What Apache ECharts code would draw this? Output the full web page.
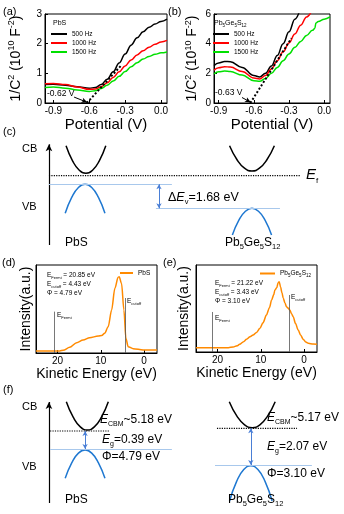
<!DOCTYPE html>
<html>
<head>
<meta charset="utf-8">
<script src="https://cdn.jsdelivr.net/npm/echarts@6/dist/echarts.min.js"></script>
<style>
  html, body { margin: 0; padding: 0; background: #fff; }
  #chart { width: 344px; height: 514px; }
</style>
</head>
<body>
<div id="chart"></div>
<script>
const FONT = 'Liberation Sans, Arial, sans-serif';

// (a) Mott–Schottky curves of PbS, 1/C^2 in 10^10 F^-2
const potentialA = [-0.97, -0.9, -0.8, -0.7, -0.6, -0.55, -0.5, -0.45, -0.4, -0.35, -0.3, -0.25, -0.2, -0.15, -0.1, -0.05, 0, 0.05];
const pbs500  = [0.62, 0.63, 0.60, 0.55, 0.50, 0.52, 0.62, 0.80, 1.05, 1.35, 1.65, 1.95, 2.20, 2.40, 2.55, 2.66, 2.75, 2.83];
const pbs1000 = [0.65, 0.66, 0.62, 0.54, 0.46, 0.47, 0.55, 0.68, 0.86, 1.05, 1.25, 1.45, 1.62, 1.76, 1.88, 1.98, 2.06, 2.11];
const pbs1500 = [0.52, 0.54, 0.50, 0.44, 0.39, 0.41, 0.49, 0.60, 0.74, 0.90, 1.06, 1.22, 1.36, 1.48, 1.57, 1.64, 1.69, 1.72];
const flatBandA = -0.62;
const fitEndA = [-0.33, 1.28];

// (b) Mott–Schottky curves of Pb5Ge5S12
const potentialB = [-0.94, -0.9, -0.85, -0.8, -0.7, -0.6, -0.55, -0.5, -0.45, -0.4, -0.35, -0.3, -0.25, -0.2, -0.15, -0.1, -0.08, -0.07, -0.05, 0, 0.05];
const pgs500  = [2.52, 2.70, 2.80, 2.78, 2.40, 1.85, 1.76, 2.00, 2.50, 3.20, 4.00, 4.80, 5.65, 6.45, null, null, null, null, null, null, null];
const pgs1000 = [2.22, 2.38, 2.45, 2.42, 2.12, 1.68, 1.62, 1.85, 2.30, 2.85, 3.45, 4.05, 4.65, 5.25, 5.80, 6.30, null, null, null, null, null];
const pgs1500 = [1.96, 2.10, 2.15, 2.12, 1.88, 1.50, 1.46, 1.65, 2.00, 2.40, 2.85, 3.30, 3.75, 4.15, 4.55, 4.90, 5.02, 5.40, 5.50, 5.65, 5.80];
const flatBandB = -0.63;
const fitEndB = [-0.28, 4.36];

const freqNames = ['500 Hz', '1000 Hz', '1500 Hz'];
const freqColors = ['#000000', '#ff0000', '#00e000'];
const potentialTicks = [-0.9, -0.6, -0.3, 0];

// (d) UPS spectrum of PbS
const energyD = [25, 22, 19.5, 18.7, 17.2, 15.6, 14.1, 12.6, 10.6, 9.8, 9.1, 8.3, 7.5, 6.75, 6.0, 5.75, 5.2, 4.66, 4.2, 3.67, 2.5, 0.2, -3];
const intensityD = [2.3, 2.3, 2.4, 3.2, 6.4, 11.7, 14.8, 17.4, 19.3, 20, 22.4, 29.9, 48.9, 73.5, 86, 86.7, 79, 48.9, 16.7, 7.2, 4.9, 3.4, 3.4];
const upsD = { fermi: 20.85, cutoff: 4.43, phi: 4.79 };

// (e) UPS spectrum of Pb5Ge5S12
const energyE = [25, 20, 17.5, 16.4, 15.5, 14.9, 14.0, 13.3, 12.5, 11.8, 11.0, 10.2, 9.5, 8.7, 8.0, 7.5, 7.0, 6.75, 6.3, 6.0, 5.75, 5.45, 5.1, 4.8, 4.4, 4.05, 3.7, 3.3, 2.9, 2.5, 2.0, 1.35, 0.8, 0.2, -0.4, -1, -2.1, -3];
const intensityE = [4.9, 4.9, 5.0, 5.7, 7.2, 8.8, 11.8, 14.6, 17.5, 19.5, 22.5, 27.2, 33.5, 42.5, 51, 59.8, 66, 71.3, 74, 79.7, 80.8, 75, 68, 61.7, 56, 52, 50.5, 48.3, 44, 40.6, 33, 25.3, 19.5, 14.6, 11.5, 10, 9.2, 9];
const upsE = { fermi: 21.22, cutoff: 3.43, phi: 3.10 };
const energyTicks = [20, 10, 0];

// (c) band alignment sketch (diagram units, Fermi level at 0)
const deltaEv = 1.68;
const pbsVbTopC = -0.6;
const pgsVbTopC = pbsVbTopC - deltaEv;
const pbsCbC = [[0.93, 2.1], [1.167, 1.028], [1.403, 0.384], [1.64, 0.17], [1.877, 0.384], [2.113, 1.028], [2.35, 2.1]];
const pbsVbC = [[0.9, -2.63], [1.137, -1.502], [1.373, -0.826], [1.61, -0.6], [1.847, -0.826], [2.083, -1.502], [2.32, -2.63]];
const pgsCbC = [[6.77, 2.1], [7.037, 1.117], [7.303, 0.527], [7.57, 0.33], [7.837, 0.527], [8.103, 1.117], [8.37, 2.1]];
const pgsVbC = [[6.87, -4.15], [7.103, -3.111], [7.337, -2.488], [7.57, -2.28], [7.803, -2.488], [8.037, -3.111], [8.27, -4.15]];

// (f) band edges with measured energies (diagram units)
const bandF = {
  pbs: { cbm: 5.18, eg: 0.39, phi: 4.79 },
  pgs: { cbm: 5.17, eg: 2.07, phi: 3.10 }
};
const pbsCbF = [[0.94, 10.33], [1.19, 8.758], [1.44, 7.814], [1.69, 7.5], [1.94, 7.814], [2.19, 8.758], [2.44, 10.33]];
const pbsVbF = [[0.9, 2.67], [1.137, 4.242], [1.373, 5.186], [1.61, 5.5], [1.847, 5.186], [2.083, 4.242], [2.32, 2.67]];
const pgsCbF = [[6.76, 10.33], [7.033, 8.886], [7.307, 8.019], [7.58, 7.73], [7.853, 8.019], [8.127, 8.886], [8.4, 10.33]];
const pgsVbF = [[6.77, 0.4], [7.023, 2.361], [7.277, 3.538], [7.53, 3.93], [7.783, 3.538], [8.037, 2.361], [8.29, 0.4]];

const zip = (xs, ys) => xs.map((x, i) => [x, ys[i]]);

const BLUE = '#1f78d1';
const LIGHT_BLUE = '#a8c8ec';
const ARROW_BLUE = '#4a7fd6';

function frameGrid(left, top, width, height) {
  return { left, top, width, height, show: true, borderColor: '#000', borderWidth: 1,
           backgroundColor: 'transparent', containLabel: false, outerBoundsMode: 'none' };
}
function hiddenGrid(left, top, width, height) {
  return { left, top, width, height, show: false, containLabel: false, outerBoundsMode: 'none' };
}
function hiddenAxis(gridIndex, min, max) {
  return { gridIndex, type: 'value', min, max, show: false, splitLine: { show: false } };
}

const tickLabel = { color: '#000', fontSize: 10, fontFamily: FONT, margin: 3 };
const bigName = { color: '#000', fontFamily: FONT };
const supRich = { sup: { fontSize: 9, fontFamily: FONT, verticalAlign: 'top', lineHeight: 10, color: '#000' } };
const frameLine = { onZero: false, lineStyle: { color: '#000', width: 1 } };

function potentialAxis(gridIndex, min, max) {
  return {
    gridIndex, type: 'value', min, max,
    axisLine: frameLine,
    axisTick: { inside: true, length: 3, customValues: potentialTicks, lineStyle: { color: '#000' } },
    axisLabel: Object.assign({ customValues: potentialTicks, formatter: v => v.toFixed(1) }, tickLabel),
    splitLine: { show: false },
    name: 'Potential (V)', nameLocation: 'middle', nameGap: 6,
    nameTextStyle: Object.assign({ fontSize: 15 }, bigName)
  };
}
function capAxis(gridIndex, max, interval, gap) {
  return {
    gridIndex, type: 'value', min: 0, max, interval,
    axisLine: frameLine,
    axisTick: { inside: true, length: 3, lineStyle: { color: '#000' } },
    axisLabel: tickLabel,
    splitLine: { show: false },
    name: '1/C{sup|2} (10{sup|10} F{sup|-2})', nameLocation: 'middle', nameGap: gap, nameRotate: 90,
    nameTextStyle: Object.assign({ fontSize: 14, lineHeight: 18, rich: supRich }, bigName)
  };
}
function energyAxis(gridIndex) {
  return {
    gridIndex, type: 'value', min: -3, max: 25, inverse: true,
    axisLine: frameLine,
    axisTick: { inside: true, length: 3, customValues: energyTicks, lineStyle: { color: '#000' } },
    axisLabel: Object.assign({ customValues: energyTicks }, tickLabel),
    splitLine: { show: false },
    name: 'Kinetic Energy (eV)', nameLocation: 'middle', nameGap: 10,
    nameTextStyle: Object.assign({ fontSize: 14 }, bigName)
  };
}
function intensityAxis(gridIndex, gap) {
  return {
    gridIndex, type: 'value', min: 0, max: 100,
    axisLine: frameLine,
    axisTick: { show: false }, axisLabel: { show: false }, splitLine: { show: false },
    name: 'Intensity(a.u.)', nameLocation: 'middle', nameGap: gap, nameRotate: 90,
    nameTextStyle: Object.assign({ fontSize: 14 }, bigName)
  };
}

function curve(name, xi, data, color, width, extra) {
  return Object.assign({
    name, type: 'line', xAxisIndex: xi, yAxisIndex: xi, data,
    symbol: 'none', showSymbol: false, smooth: 0.4, smoothMonotone: 'x',
    color, lineStyle: { color, width }, silent: true, clip: true
  }, extra || {});
}
function segment(name, xi, data, color, width, type, extra) {
  return Object.assign({
    name, type: 'line', xAxisIndex: xi, yAxisIndex: xi, data,
    symbol: 'none', showSymbol: false, color, lineStyle: { color, width, type }, silent: true
  }, extra || {});
}
function arrowMark(from, to, color, width, symbols, size) {
  return {
    silent: true, symbol: symbols, symbolSize: size, label: { show: false },
    lineStyle: { color, width, type: 'solid' }, emphasis: { disabled: true },
    data: [[{ coord: from }, { coord: to }]]
  };
}
function plainMark(lines, color, width) {
  return {
    silent: true, symbol: ['none', 'none'], label: { show: false },
    lineStyle: { color, width, type: 'solid' }, emphasis: { disabled: true },
    data: lines.map(l => [{ coord: l[0] }, { coord: l[1] }])
  };
}

const series = [];
// (a)
[pbs500, pbs1000, pbs1500].forEach((ys, i) => series.push(curve(freqNames[i], 0, zip(potentialA, ys), freqColors[i], 1.5)));
series.push(segment('fitA', 0, [[flatBandA, 0], fitEndA], '#000', 2, 'dotted', {
  z: 4, markLine: arrowMark([-0.727, 0.2], [flatBandA + 0.005, 0.02], '#000', 1, ['none', 'arrow'], [4, 6])
}));
// (b)
[pgs500, pgs1000, pgs1500].forEach((ys, i) => series.push(curve(freqNames[i], 1, zip(potentialB, ys), freqColors[i], 1.5, { connectNulls: false })));
series.push(segment('fitB', 1, [[flatBandB, 0], fitEndB], '#000', 2, 'dotted', {
  z: 4, markLine: arrowMark([-0.701, 0.37], [flatBandB + 0.005, 0.04], '#000', 1, ['none', 'arrow'], [4, 6])
}));
// (c)
series.push(curve('cbPbsC', 2, pbsCbC, '#000', 1.5, { smooth: 0.5, smoothMonotone: null }));
series.push(curve('vbPbsC', 2, pbsVbC, BLUE, 1.5, { smooth: 0.5, smoothMonotone: null }));
series.push(curve('cbPgsC', 2, pgsCbC, '#000', 1.5, { smooth: 0.5, smoothMonotone: null }));
series.push(curve('vbPgsC', 2, pgsVbC, BLUE, 1.5, { smooth: 0.5, smoothMonotone: null }));
series.push(segment('efC', 2, [[0.32, 0], [9.29, 0]], '#000', 1.2, 'dotted', {
  markLine: arrowMark([0.32, -4.85], [0.32, 2.2], '#000', 1.2, ['none', 'arrow'], [5, 7])
}));
series.push(segment('vbLevelC', 2, [], LIGHT_BLUE, 1.2, 'solid', {
  markLine: plainMark([[[0.32, pbsVbTopC], [4.71, pbsVbTopC]], [[4.14, pgsVbTopC], [8.57, pgsVbTopC]]], LIGHT_BLUE, 1.2)
}));
series.push(segment('dEvC', 2, [], ARROW_BLUE, 1, 'solid', {
  markLine: arrowMark([4.25, pbsVbTopC], [4.25, pgsVbTopC], ARROW_BLUE, 1, ['arrow', 'arrow'], [4, 5])
}));
// (d)
series.push(curve('PbS', 3, zip(energyD, intensityD), '#ff8a00', 1.5, {
  smooth: 0.3,
  markLine: plainMark([[[upsD.fermi, 0], [upsD.fermi, 47]], [[upsD.cutoff, 0], [upsD.cutoff, 62.5]]], '#555', 0.8)
}));
// (e)
series.push(curve('Pb5Ge5S12', 4, zip(energyE, intensityE), '#ff8a00', 1.5, {
  smooth: 0.3,
  markLine: plainMark([[[upsE.fermi, 0], [upsE.fermi, 46]], [[upsE.cutoff, 0], [upsE.cutoff, 65.5]]], '#555', 0.8)
}));
// (f)
series.push(curve('cbPbsF', 5, pbsCbF, '#000', 1.5, { smooth: 0.5, smoothMonotone: null }));
series.push(curve('vbPbsF', 5, pbsVbF, BLUE, 1.5, { smooth: 0.5, smoothMonotone: null }));
series.push(curve('cbPgsF', 5, pgsCbF, '#000', 1.5, { smooth: 0.5, smoothMonotone: null }));
series.push(curve('vbPgsF', 5, pgsVbF, BLUE, 1.5, { smooth: 0.5, smoothMonotone: null }));
series.push(segment('cbmPbsF', 5, [[0.36, 7.4], [2.5, 7.4]], '#000', 1.2, 'dotted', {
  markLine: arrowMark([0.32, 0.2], [0.32, 10.3], '#000', 1.2, ['none', 'arrow'], [5, 7])
}));
series.push(segment('cbmPgsF', 5, [[6.32, 7.67], [9.18, 7.67]], '#000', 1.2, 'dotted'));
series.push(segment('vbLevelF', 5, [], LIGHT_BLUE, 1.2, 'solid', {
  markLine: plainMark([[[0.36, 5.6], [4.71, 5.6]], [[6.25, 4.0], [9.71, 4.0]]], LIGHT_BLUE, 1.2)
}));
series.push(segment('egPbsF', 5, [], ARROW_BLUE, 1, 'solid', {
  markLine: arrowMark([1.61, 7.4], [1.61, 5.6], ARROW_BLUE, 1, ['arrow', 'arrow'], [4, 5])
}));
series.push(segment('egPgsF', 5, [], ARROW_BLUE, 1, 'solid', {
  markLine: arrowMark([7.53, 7.67], [7.53, 4.0], ARROW_BLUE, 1, ['arrow', 'arrow'], [4, 5])
}));

// free text
function txt(x, y, text, size, extra) {
  const style = Object.assign({
    text, fontSize: size, fontFamily: FONT, fill: '#000',
    align: 'left', verticalAlign: 'middle', textAlign: 'left', textVerticalAlign: 'middle'
  }, extra || {});
  return { type: 'text', x, y, silent: true, z: 100, style };
}
function subRich(size) {
  return { s: { fontSize: size, fontFamily: FONT, verticalAlign: 'bottom', lineHeight: size * 2.2, fill: '#000' } };
}
function richTxt(x, y, text, size, subSize, extra) {
  return txt(x, y, text, size, Object.assign({ rich: Object.assign({
    n: { fontSize: size, fontFamily: FONT, lineHeight: size * 1.3, fill: '#000' },
    i: { fontSize: size, fontFamily: FONT, fontStyle: 'italic', lineHeight: size * 1.3, fill: '#000' }
  }, subRich(subSize)) }, extra || {}));
}
const pgsRich = '{n|Pb}{s|5}{n|Ge}{s|5}{n|S}{s|12}';

const graphics = [
  txt(3, 12, '(a)', 11), txt(168, 12, '(b)', 11), txt(3, 132, '(c)', 11),
  txt(2, 263, '(d)', 11), txt(163, 263, '(e)', 11), txt(3, 390, '(f)', 11),
  txt(53, 23, 'PbS', 7),
  richTxt(214, 23, pgsRich, 7, 4.5),
  txt(47, 94, flatBandA.toFixed(2) + ' V', 8.5),
  txt(215, 93, flatBandB.toFixed(2) + ' V', 8.5),
  // (c)
  txt(22, 149, 'CB', 11), txt(22, 207, 'VB', 11),
  richTxt(306, 175, '{i|E}{s|f}', 15, 8),
  richTxt(168, 198, '{n|Δ}{i|E}{s|v}{n|=' + deltaEv.toFixed(2) + ' eV}', 12.5, 7.5),
  txt(65, 243, 'PbS', 12),
  richTxt(225, 243, pgsRich, 12, 7.5),
  // (d)
  richTxt(47, 275, '{n|E}{s|Fermi}{n| = ' + upsD.fermi.toFixed(2) + ' eV}', 6.5, 4),
  richTxt(47, 284, '{n|E}{s|cutoff}{n| = ' + upsD.cutoff.toFixed(2) + ' eV}', 6.5, 4),
  txt(47, 293, 'Φ = ' + upsD.phi.toFixed(2) + ' eV', 6.5),
  richTxt(57, 315, '{n|E}{s|Fermi}', 6.5, 4),
  richTxt(127, 301, '{n|E}{s|cutoff}', 6.5, 4),
  // (e)
  richTxt(215, 283, '{n|E}{s|Fermi}{n| = ' + upsE.fermi.toFixed(2) + ' eV}', 6.5, 4),
  richTxt(215, 292, '{n|E}{s|cutoff}{n| = ' + upsE.cutoff.toFixed(2) + ' eV}', 6.5, 4),
  txt(215, 301, 'Φ = ' + upsE.phi.toFixed(2) + ' eV', 6.5),
  richTxt(215, 318, '{n|E}{s|Fermi}', 6.5, 4),
  richTxt(291, 297, '{n|E}{s|cutoff}', 6.5, 4),
  // (f)
  txt(22, 407, 'CB', 11), txt(22, 467, 'VB', 11),
  richTxt(100, 420, '{i|E}{s|CBM}{n|~' + bandF.pbs.cbm.toFixed(2) + ' eV}', 12, 7),
  richTxt(102, 440, '{i|E}{s|g}{n|=' + bandF.pbs.eg.toFixed(2) + ' eV}', 12, 7),
  txt(102, 457, 'Φ=' + bandF.pbs.phi.toFixed(2) + ' eV', 12),
  txt(65, 500, 'PbS', 12),
  richTxt(267, 418, '{i|E}{s|CBM}{n|~' + bandF.pgs.cbm.toFixed(2) + ' eV}', 12, 7),
  richTxt(267, 447, '{i|E}{s|g}{n|=' + bandF.pgs.eg.toFixed(2) + ' eV}', 12, 7),
  txt(267, 474, 'Φ=' + bandF.pgs.phi.toFixed(2) + ' eV', 12),
  richTxt(228, 500, pgsRich, 12, 7.5)
];

const legendBase = {
  orient: 'vertical', itemWidth: 16, itemHeight: 2, itemGap: 1, icon: 'rect', padding: 0,
  selectedMode: false, textStyle: { fontSize: 6.5, lineHeight: 8, fontFamily: FONT, color: '#000' }
};

const option = {
  animation: false,
  backgroundColor: '#fff',
  grid: [
    frameGrid(45, 14, 122, 89),
    frameGrid(214, 14, 116, 89),
    hiddenGrid(40, 140, 280, 110),
    frameGrid(36, 265, 121, 88),
    frameGrid(196, 265, 121, 87),
    hiddenGrid(40, 395, 280, 110)
  ],
  xAxis: [
    potentialAxis(0, -0.97, 0.05),
    potentialAxis(1, -0.94, 0.05),
    hiddenAxis(2, 0, 10),
    energyAxis(3),
    energyAxis(4),
    hiddenAxis(5, 0, 10)
  ],
  yAxis: [
    capAxis(0, 3, 1, 20),
    capAxis(1, 6, 2, 12),
    hiddenAxis(2, -5.2, 2.5),
    intensityAxis(3, 3),
    intensityAxis(4, 5),
    hiddenAxis(5, 0, 11)
  ],
  legend: [
    Object.assign({}, legendBase, { data: freqNames, left: 51, top: 30 }),
    Object.assign({}, legendBase, { data: freqNames, left: 213, top: 30 }),
    Object.assign({}, legendBase, { data: ['PbS'], left: 120, top: 269, itemWidth: 13 }),
    Object.assign({}, legendBase, {
      data: ['Pb5Ge5S12'], left: 260, top: 269, itemWidth: 15,
      formatter: () => 'Pb{s|5}Ge{s|5}S{s|12}',
      textStyle: { fontSize: 6.5, lineHeight: 8, fontFamily: FONT, color: '#000',
        rich: { s: { fontSize: 4.5, fontFamily: FONT, verticalAlign: 'bottom', lineHeight: 9, color: '#000' } } }
    })
  ],
  series,
  graphic: graphics
};

const chart = echarts.init(document.getElementById('chart'), null, { renderer: 'canvas' });
chart.setOption(option);
</script>
</body>
</html>
